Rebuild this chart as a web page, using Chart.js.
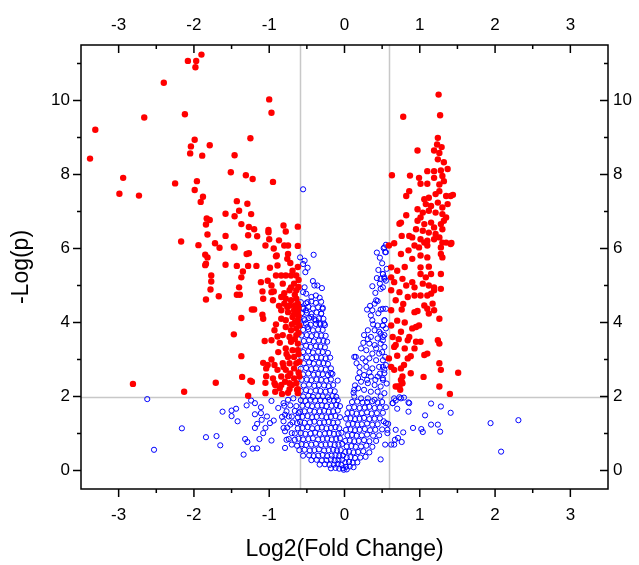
<!DOCTYPE html>
<html>
<head>
<meta charset="utf-8">
<script src="https://cdn.jsdelivr.net/npm/chart.js@4.4.1/dist/chart.umd.min.js"></script>
<style>
  html, body { margin: 0; padding: 0; background: #ffffff; }
  #wrap { width: 639px; height: 565px; }
</style>
</head>
<body>
<div id="wrap"><canvas id="volcano" width="639" height="565"></canvas></div>
<script>
// Volcano plot: log2 fold change vs -log10(p)

const xTickValues = [-3, -2, -1, 0, 1, 2, 3];
const xMinorTicks = [-2.5, -1.5, -0.5, 0.5, 1.5, 2.5];
const yTickValues = [0, 2, 4, 6, 8, 10];
const yMinorTicks = [1, 3, 5, 7, 9, 11];

const foldCut = 0.585;   // log2(1.5)
const pCut = 2;          // p = 0.01

// significantly down-regulated genes [log2FC, -log p]
const downGenes = [
  [-1.90,11.24],[-2.08,11.07],[-1.97,11.07],[-1.98,10.90],[-2.40,10.48],[-2.66,9.54],[-2.12,9.63],
  [-3.31,9.21],[-3.38,8.43],[-1.99,8.94],[-2.04,8.76],[-1.79,8.79],[-2.05,8.57],[-1.89,8.51],
  [-2.94,7.91],[-2.25,7.76],[-1.96,7.82],[-2.99,7.48],[-2.73,7.43],[-1.99,7.58],[-1.88,7.40],
  [-1.91,7.26],[-1.83,6.81],[-1.79,6.77],[-1.84,6.65],[-1.82,6.38],[-2.17,6.19],[-1.94,6.09],
  [-1.72,6.14],
  [-1.00,10.03],[-0.97,9.67],[-1.25,8.98],[-1.46,8.52],[-1.51,8.06],[-1.31,7.98],[-1.22,7.88],
  [-0.95,7.80],[-1.43,7.28],[-1.29,7.21],[-1.40,7.02],[-1.58,6.94],[-1.46,6.87],[-1.24,6.93],
  [-1.37,6.66],[-1.27,6.58],[-1.20,6.52],[-1.01,6.50],[-1.01,6.44],[-0.81,6.62],[-0.78,6.46],
  [-0.62,6.59],[-1.58,6.34],[-1.28,6.36],[-1.16,6.33],[-1.00,6.25],[-0.87,6.22],[-1.66,6.02],
  [-1.47,6.05],[-1.46,6.03],[-1.05,6.08],[-0.94,6.00],[-0.80,6.08],[-0.75,6.08],[-0.62,6.07],
  [-1.85,5.83],[-1.82,5.76],[-1.30,5.85],[-1.27,5.87],[-0.90,5.81],[-0.75,5.85],[-0.76,5.72],
  [-1.84,5.59],[-1.85,5.55],[-1.58,5.56],[-1.43,5.53],[-1.28,5.53],[-1.17,5.53],[-0.99,5.48],
  [-0.91,5.79],[-0.89,5.54],[-0.72,5.61],[-1.35,5.38],[-1.77,5.27],[-1.77,5.11],[-0.91,5.27],
  [-0.84,5.27],[-0.78,5.27],[-0.71,5.27],[-0.64,5.27],[-1.37,5.22],[-1.40,4.95],[-1.11,5.09],
  [-1.02,5.13],[-0.97,5.00],[-0.82,5.05],[-0.71,4.95],[-1.78,4.89],[-1.09,4.84],[-0.97,4.82],
  [-0.94,4.84],[-0.80,4.79],[-0.73,4.87],[-0.64,4.87],[-1.67,4.71],[-1.43,4.75],[-1.39,4.75],
  [-1.84,4.62],[-1.08,4.64],[-0.95,4.60],[-0.84,4.69],[-0.78,4.64],[-0.71,4.60],[-0.64,4.64],
  [-0.80,4.51],[-0.73,4.46],[-0.66,4.46],[-0.62,4.51],[-1.23,4.35],[-1.20,4.35],[-0.84,4.33],
  [-0.75,4.28],[-0.67,4.33],[-0.62,4.28],[-1.09,4.21],[-1.08,4.10],[-1.37,4.12],[-0.84,4.10],
  [-0.78,4.06],[-0.69,4.15],[-0.62,4.06],[-0.91,3.95],[-0.93,3.79],[-0.78,3.88],[-0.71,3.79],
  [-0.64,3.84],[-0.60,3.92],[-1.47,3.68],[-0.82,3.66],[-0.73,3.61],[-0.64,3.66],[-1.06,3.50],
  [-0.97,3.52],[-0.86,3.45],[-0.71,3.48],[-0.62,3.43],[-0.78,3.30],[-0.69,3.25],[-0.62,3.25],
  [-1.37,3.09],[-0.75,3.07],[-0.67,3.07],[-0.97,3.00],[-1.08,2.91],[-1.02,2.85],[-0.93,2.85],
  [-0.82,2.90],[-0.73,2.90],[-0.64,2.90],[-0.60,2.94],[-1.04,2.76],[-0.89,2.72],[-0.78,2.72],
  [-0.67,2.76],[-1.36,2.53],[-1.25,2.43],[-1.04,2.55],[-0.95,2.49],[-0.84,2.54],[-0.75,2.55],
  [-0.67,2.49],[-0.60,2.54],[-0.93,2.36],[-0.84,2.31],[-0.73,2.36],[-0.64,2.36],[-1.71,2.37],
  [-0.86,2.22],[-0.73,2.20],[-0.62,2.20],[-0.62,2.09],
  [-2.81,2.34],[-2.13,2.13],[-1.28,2.02],[-1.05,2.09],[-0.92,2.13],[-0.83,2.07],[-0.75,2.10],
  [-1.23,2.40],[-1.05,2.37],[-0.92,2.31],[-0.79,2.40],[-0.70,2.31],[-0.63,2.18],
  [-0.61,2.65],[-0.61,3.15],[-0.66,3.55],[-0.61,3.72],[-0.66,4.00],[-0.61,4.18],[-0.67,4.22],
  [-0.61,4.40],[-0.66,4.75],[-0.61,4.96],[-0.67,5.05],[-0.61,5.15],[-0.69,5.40],[-0.62,5.50],
  [-0.70,3.95],[-0.77,3.15],[-0.72,2.62],[-0.81,2.80],[-0.88,3.20],[-0.76,4.42],[-0.87,4.45],
  [-0.89,3.62]
];

// significantly up-regulated genes [log2FC, -log p]
const upGenes = [
  [1.25,10.16],[0.78,9.56],[1.27,9.60],[1.24,8.99],[1.23,8.81],[1.29,8.74],[1.19,8.65],
  [1.26,8.58],[1.24,8.41],[1.32,8.33],[1.37,8.15],[0.97,8.65],[0.63,7.98],[0.87,7.97],
  [1.10,8.09],[1.19,8.09],[1.28,8.11],[1.19,7.91],[1.30,7.96],[1.32,7.82],[1.26,7.73],
  [0.99,7.91],[1.01,7.75],[1.10,7.75],[0.86,7.55],[0.82,7.42],[1.06,7.33],[1.12,7.37],
  [1.21,7.47],[1.26,7.55],[1.35,7.42],[1.41,7.42],[1.44,7.45],[1.08,7.20],[1.15,7.15],
  [1.24,7.24],[1.30,7.11],[1.37,7.20],[0.97,7.06],[1.04,6.97],[1.12,7.02],[1.21,6.97],
  [1.30,6.93],[1.35,6.84],[0.82,6.90],[0.73,6.67],[0.75,6.70],[0.97,6.75],[1.01,6.84],
  [1.06,6.66],[1.15,6.70],[1.19,6.57],[1.28,6.66],[1.32,6.75],[0.95,6.52],[1.04,6.48],
  [1.12,6.43],[1.21,6.39],[1.30,6.52],[0.76,6.34],[0.86,6.34],[0.90,6.30],[1.01,6.25],
  [1.10,6.21],[1.19,6.25],[1.26,6.30],[1.30,6.16],[1.42,6.15],[0.66,6.14],[0.59,6.08],
  [0.93,6.08],[0.99,6.03],[1.10,6.08],[1.28,6.03],
  [1.06,6.16],[1.35,6.16],[1.41,6.12],[0.90,5.72],[1.01,5.81],[1.10,5.76],[1.28,5.85],
  [1.30,5.76],[0.62,5.49],[1.01,5.49],[1.12,5.51],[1.01,5.31],[1.08,5.22],[1.15,5.31],
  [1.28,5.31],[0.62,5.22],[0.66,5.09],[0.77,5.18],[0.82,5.00],[0.90,5.09],[0.93,4.95],
  [1.04,5.05],[1.12,5.00],[1.19,4.95],[1.28,4.91],[0.62,4.87],[0.73,4.82],[0.84,4.69],
  [0.93,4.73],[1.01,4.73],[1.10,4.73],[1.15,4.78],[1.19,4.87],[1.06,4.46],[1.10,4.37],
  [1.17,4.51],[1.19,4.33],[1.12,4.24],[1.26,4.10],[0.62,4.33],[0.76,4.35],[0.93,4.28],
  [0.97,4.31],[0.62,3.92],[0.90,3.84],[0.95,3.88],[0.99,3.92],[0.75,3.75],[0.84,3.52],
  [0.86,3.61],[0.64,3.61],[0.68,3.39],[0.66,3.34],[0.95,3.48],[1.01,3.48],[0.93,3.30],
  [1.24,3.52],[1.26,3.43],[1.06,3.12],[1.10,3.16],[0.59,3.03],[0.84,3.03],[0.88,3.09],
  [0.79,2.85],[0.75,2.76],[0.66,2.72],[0.62,2.80],[1.26,2.90],[1.28,2.72],[1.51,2.64],
  [0.88,2.63],[1.05,2.53],[0.77,2.54],[0.75,2.45],[0.73,2.27],[0.68,2.27],[0.77,2.36],
  [1.26,2.27],[1.40,2.07],[0.71,2.27],[0.74,2.18],[0.76,2.40],
  [0.70,3.10],[0.72,3.55],[0.80,3.30],[0.70,4.05],[0.80,4.00],[0.68,4.60],[0.78,4.50],
  [0.70,5.40],[0.80,5.50],[0.75,5.85],[0.85,5.95]
];

// genes below either threshold [log2FC, -log p]
const nsGenes = [
  [-2.62,1.93],[-2.16,1.14],[-2.53,0.56],[-1.84,0.90],[-1.70,0.93],[-1.65,0.68],[-1.62,1.59],
  [-1.50,1.62],[-1.44,1.67],[-1.50,1.47],[-1.42,1.33],[-1.30,1.76],[-1.24,1.89],[-1.19,1.82],
  [-1.11,1.71],[-0.97,1.88],[-1.19,1.52],[-1.11,1.55],[-1.03,1.46],[-0.94,1.35],[-1.10,1.37],
  [-1.16,1.26],[-1.19,1.15],[-1.05,1.15],[-0.99,1.28],[-1.32,0.85],[-1.29,0.77],[-1.13,0.85],
  [-1.08,1.01],[-0.97,0.81],[-1.34,0.43],[-1.22,0.59],[-1.16,0.60],[-0.88,1.69],[-0.81,1.82],
  [-0.75,1.91],[-0.68,1.95],[-0.79,1.51],[-0.70,1.46],[-0.61,1.55],[-0.81,1.33],[-0.72,1.24],
  [-0.63,1.28],[-0.79,1.06],[-0.70,1.01],[-0.77,0.83],[-0.66,0.83],[-0.79,0.61],[-0.63,0.67],
  [1.15,1.81],[1.28,1.73],[1.41,1.56],[1.07,1.49],[1.15,1.24],[1.24,1.24],[1.27,1.05],
  [0.91,1.15],[1.02,1.12],[1.04,1.04],[1.94,1.28],[2.31,1.36],[2.08,0.51],[0.85,1.84],
  [0.85,1.59],[0.75,1.95],[0.68,1.89],[0.64,1.82],[0.70,1.67],[0.78,1.03],[0.76,0.77],
  [0.71,0.88],[0.67,0.83],[0.66,0.70],[0.62,0.70],[0.57,1.01],[0.55,1.28],[0.52,1.33],
  [0.54,0.70],[0.48,0.30],[0.57,1.10],[0.68,1.10],[0.66,1.95],[0.73,1.98],[0.79,1.97],
  [0.86,1.82],[0.64,1.82],
  [0.53,6.03],[0.55,5.90],[0.51,5.31],[0.53,5.18],[0.55,5.13],[0.51,4.95],[0.51,4.37],
  [0.55,4.37],[0.53,4.06],[0.51,3.92],[0.55,3.84],[0.53,3.66],[0.51,3.52],[0.54,3.07],
  [0.51,2.80],[0.53,2.63],[0.51,2.45],
  [-0.55,7.60],[-0.41,5.83],[-0.59,5.76],[-0.53,5.67],[-0.55,5.58],[-0.49,5.48],[-0.52,5.36],
  [-0.42,5.12],[-0.40,5.00],[-0.36,5.00],[-0.30,4.93],[-0.53,4.95],[-0.55,4.82],[-0.51,4.78],
  [-0.44,4.69],[-0.38,4.73],[-0.33,4.67],[-0.49,4.55],[-0.55,4.37],[-0.51,4.33],[-0.29,4.37],
  [-0.31,4.24],[-0.44,4.15],[-0.38,4.06],[-0.33,3.97],[-0.27,3.97],[-0.53,4.06],[-0.49,3.88],
  [0.43,5.89],[0.52,6.01],[0.54,5.90],[0.45,5.42],[0.51,5.31],[0.48,5.18],[0.53,5.22],
  [0.37,4.98],[0.48,4.91],[0.42,4.60],[0.40,4.51],[0.44,4.58],[0.30,4.35],[0.37,4.33],
  [0.35,4.19],[0.48,4.35],[0.53,4.06],[0.51,3.92],[0.37,4.06],
  [0.31,3.79],[0.40,3.79],[0.46,3.75],[0.26,3.66],[0.35,3.61],[0.44,3.57],[0.51,3.61],
  [0.33,3.43],[0.40,3.39],[0.48,3.43],[0.53,3.34],[0.22,3.30],[0.29,3.25],[0.37,3.16],
  [0.46,3.16],[0.15,3.07],[0.24,3.03],[0.33,3.03],[0.42,2.98],[0.51,2.98],[0.20,2.80],
  [0.29,2.80],[0.37,2.76],[0.46,2.80],[0.53,2.72],[0.26,2.58],[0.35,2.54],[0.44,2.54],
  [0.51,2.49],[0.22,2.40],[0.31,2.36],[0.40,2.31],[0.48,2.27],[0.18,2.22],[0.26,2.18],
  [0.35,2.13],[0.44,2.13],[0.53,2.09],[0.13,2.00],[0.22,1.95],[0.31,1.95],[0.40,1.91],
  [0.48,2.00],
  [0.18,2.50],[0.20,2.65],[0.14,2.30],[0.12,2.10],[0.16,2.90],[0.28,2.95],[0.30,2.45],
  [0.33,2.65],[0.41,2.45],[0.47,2.62],[0.56,2.35],[0.55,2.85],[0.42,3.30],[0.50,3.20],
  [0.25,3.45],[0.31,3.55],[0.44,3.92],[0.38,3.95],[0.48,3.70],[0.34,4.45],[0.45,4.25],
  [0.41,4.80],[0.47,5.05],[0.43,5.20],[0.50,5.60],[0.56,5.45],[0.47,5.75],[0.55,6.10],
  [0.13,3.07],[0.13,2.18],
  [-0.58,4.55],[-0.51,4.52],[-0.44,4.57],[-0.38,4.53],[-0.31,4.56],
  [-0.55,4.40],[-0.48,4.42],[-0.42,4.38],[-0.35,4.41],[-0.29,4.40],
  [-0.57,4.25],[-0.50,4.26],[-0.44,4.23],[-0.37,4.27],[-0.31,4.24],
  [-0.54,4.10],[-0.47,4.12],[-0.40,4.09],[-0.34,4.11],[-0.28,4.10],
  [-0.58,3.95],[-0.51,3.97],[-0.45,3.94],[-0.38,3.96],[-0.32,3.95],[-0.26,3.93],
  [-0.55,3.80],[-0.48,3.82],[-0.42,3.79],[-0.35,3.81],[-0.29,3.80],
  [-0.57,3.65],[-0.50,3.66],[-0.44,3.63],[-0.37,3.66],[-0.31,3.65],[-0.25,3.64],
  [-0.54,3.50],[-0.47,3.52],[-0.41,3.49],[-0.34,3.51],[-0.28,3.50],[-0.23,3.48],
  [-0.58,3.35],[-0.51,3.37],[-0.45,3.34],[-0.38,3.36],[-0.32,3.35],[-0.26,3.33],
  [-0.55,3.20],[-0.48,3.22],[-0.42,3.19],[-0.35,3.21],[-0.29,3.20],[-0.22,3.18],
  [-0.57,3.05],[-0.50,3.06],[-0.43,3.04],[-0.37,3.06],[-0.31,3.05],[-0.25,3.03],[-0.19,3.05],
  [-0.54,2.90],[-0.47,2.92],[-0.41,2.89],[-0.34,2.91],[-0.28,2.90],[-0.22,2.88],
  [-0.58,2.75],[-0.51,2.77],[-0.44,2.74],[-0.38,2.76],[-0.31,2.75],[-0.25,2.73],[-0.18,2.76],
  [-0.55,2.60],[-0.48,2.62],[-0.41,2.59],[-0.35,2.61],[-0.29,2.60],[-0.22,2.58],[-0.16,2.61],
  [-0.57,2.45],[-0.50,2.46],[-0.44,2.44],[-0.37,2.46],[-0.31,2.45],[-0.24,2.43],[-0.18,2.46],
  [-0.54,2.30],[-0.47,2.32],[-0.40,2.29],[-0.34,2.31],[-0.27,2.30],[-0.21,2.28],[-0.15,2.31],
  [-0.58,2.15],[-0.51,2.17],[-0.45,2.14],[-0.38,2.16],[-0.32,2.15],[-0.25,2.13],[-0.19,2.16],[-0.13,2.14],
  [-0.55,2.00],[-0.48,2.02],[-0.42,1.99],[-0.35,2.01],[-0.29,2.00],[-0.22,1.98],[-0.16,2.01],[-0.11,1.99],
  [-0.09,2.43],[-0.18,2.63],
  [-0.58,1.90],[-0.52,1.88],[-0.45,1.91],[-0.39,1.89],[-0.32,1.90],[-0.26,1.88],[-0.20,1.91],[-0.14,1.89],[-0.09,1.90],
  [-0.80,1.75],[-0.72,1.76],[-0.64,1.74],[-0.56,1.75],[-0.49,1.77],[-0.43,1.74],[-0.36,1.75],[-0.30,1.76],[-0.24,1.74],[-0.17,1.75],[-0.11,1.77],[-0.06,1.74],
  [-0.77,1.60],[-0.66,1.61],[-0.59,1.59],[-0.53,1.60],[-0.46,1.62],[-0.40,1.59],[-0.33,1.60],[-0.27,1.61],[-0.21,1.59],[-0.15,1.60],[-0.09,1.62],
  [-0.83,1.45],[-0.74,1.46],[-0.62,1.44],[-0.56,1.45],[-0.49,1.47],[-0.43,1.44],[-0.37,1.45],[-0.30,1.46],[-0.24,1.44],[-0.18,1.45],[-0.12,1.47],[-0.06,1.44],
  [-0.69,1.30],[-0.59,1.31],[-0.53,1.29],[-0.46,1.30],[-0.40,1.32],[-0.33,1.29],[-0.27,1.30],[-0.21,1.31],[-0.15,1.29],[-0.09,1.30],
  [-0.81,1.15],[-0.76,1.16],[-0.62,1.14],[-0.56,1.15],[-0.49,1.17],[-0.43,1.14],[-0.36,1.15],[-0.30,1.16],[-0.24,1.14],[-0.18,1.15],[-0.12,1.17],[-0.07,1.14],
  [-0.66,1.00],[-0.58,1.01],[-0.52,0.99],[-0.45,1.00],[-0.39,1.02],[-0.33,0.99],[-0.26,1.00],[-0.20,1.01],[-0.14,0.99],[-0.08,1.00],[-0.04,1.02],
  [-0.74,0.85],[-0.61,0.86],[-0.55,0.84],[-0.48,0.85],[-0.42,0.87],[-0.35,0.84],[-0.29,0.85],[-0.23,0.86],[-0.17,0.84],[-0.11,0.85],[-0.06,0.87],
  [-0.70,0.70],[-0.57,0.71],[-0.51,0.69],[-0.44,0.70],[-0.38,0.72],[-0.31,0.69],[-0.25,0.70],[-0.19,0.71],[-0.13,0.69],[-0.08,0.70],[-0.03,0.72],
  [-0.60,0.55],[-0.53,0.56],[-0.46,0.54],[-0.40,0.55],[-0.34,0.57],[-0.27,0.54],[-0.21,0.55],[-0.15,0.56],[-0.10,0.54],[-0.05,0.55],
  [-0.55,0.40],[-0.47,0.41],[-0.41,0.39],[-0.35,0.40],[-0.29,0.42],[-0.23,0.39],[-0.17,0.40],[-0.12,0.41],[-0.07,0.39],[-0.02,0.40],
  [-0.44,0.28],[-0.37,0.29],[-0.30,0.27],[-0.24,0.28],[-0.18,0.30],[-0.13,0.27],[-0.08,0.28],[-0.03,0.29],
  [-0.33,0.16],[-0.26,0.17],[-0.20,0.15],[-0.14,0.16],[-0.09,0.18],[-0.04,0.15],
  [-0.18,0.06],[-0.12,0.07],[-0.07,0.05],[-0.02,0.06],
  [0.10,1.85],[0.17,1.86],[0.24,1.84],[0.30,1.85],[0.37,1.87],[0.44,1.84],[0.50,1.85],
  [0.06,1.70],[0.13,1.71],[0.20,1.69],[0.27,1.70],[0.33,1.72],[0.40,1.69],[0.47,1.70],[0.55,1.71],
  [0.04,1.55],[0.10,1.56],[0.16,1.54],[0.23,1.55],[0.30,1.57],[0.36,1.54],[0.43,1.55],[0.51,1.56],
  [0.02,1.40],[0.08,1.41],[0.14,1.39],[0.20,1.40],[0.26,1.42],[0.33,1.39],[0.40,1.40],[0.47,1.41],
  [0.05,1.25],[0.11,1.26],[0.17,1.24],[0.23,1.25],[0.30,1.27],[0.37,1.24],[0.44,1.25],[0.58,1.26],
  [0.02,1.10],[0.08,1.11],[0.14,1.09],[0.20,1.10],[0.27,1.12],[0.34,1.09],[0.41,1.10],[0.50,1.11],
  [0.04,0.95],[0.10,0.96],[0.16,0.94],[0.23,0.95],[0.30,0.97],[0.38,0.94],[0.46,0.95],
  [0.01,0.80],[0.07,0.81],[0.13,0.79],[0.19,0.80],[0.26,0.82],[0.33,0.79],[0.42,0.80],
  [0.03,0.65],[0.09,0.66],[0.15,0.64],[0.22,0.65],[0.29,0.67],[0.37,0.64],
  [0.01,0.50],[0.06,0.51],[0.12,0.49],[0.18,0.50],[0.25,0.52],[0.33,0.49],
  [0.03,0.35],[0.08,0.36],[0.14,0.34],[0.21,0.35],[0.28,0.37],
  [0.01,0.22],[0.06,0.23],[0.11,0.21],[0.17,0.22],
  [0.02,0.10],[0.07,0.11],[0.12,0.09],
  [-0.01,0.02],[0.03,0.03]
];

const toPoints = arr => arr.map(([x, y]) => ({ x, y }));

const tickFont = { family: "'Liberation Sans', Arial, sans-serif", size: 17 };
const titleFont = { family: "'Liberation Sans', Arial, sans-serif", size: 23 };

// frame, mirrored tick marks and threshold guide lines
const framePlugin = {
  id: 'frame',
  beforeDatasetsDraw(chart) {
    const { ctx, chartArea: a } = chart;
    const xs = chart.scales.x, ys = chart.scales.y;
    ctx.save();
    ctx.strokeStyle = '#c8c8c8';
    ctx.lineWidth = 1.5;
    ctx.beginPath();
    for (const v of [-foldCut, foldCut]) {
      const px = Math.round(xs.getPixelForValue(v)) + 0.5;
      ctx.moveTo(px, a.top);
      ctx.lineTo(px, a.bottom);
    }
    const py = Math.round(ys.getPixelForValue(pCut)) + 0.5;
    ctx.moveTo(a.left, py);
    ctx.lineTo(a.right, py);
    ctx.stroke();
    ctx.restore();
  },
  afterDatasetsDraw(chart) {
    const { ctx, chartArea: a } = chart;
    const xs = chart.scales.x, ys = chart.scales.y;
    const major = 8, minor = 4;
    ctx.save();
    ctx.strokeStyle = '#000000';
    ctx.lineWidth = 1.5;
    ctx.strokeRect(a.left, a.top, a.right - a.left, a.bottom - a.top);
    ctx.beginPath();
    const xMarks = xTickValues.map(v => [v, major]).concat(xMinorTicks.map(v => [v, minor]));
    for (const [v, len] of xMarks) {
      const px = xs.getPixelForValue(v);
      ctx.moveTo(px, a.bottom); ctx.lineTo(px, a.bottom + len);   // bottom: outward
      ctx.moveTo(px, a.top); ctx.lineTo(px, a.top + len);         // top: inward
    }
    const yMarks = yTickValues.map(v => [v, major]).concat(yMinorTicks.map(v => [v, minor]));
    for (const [v, len] of yMarks) {
      const py = ys.getPixelForValue(v);
      ctx.moveTo(a.left, py); ctx.lineTo(a.left - len, py);       // left: outward
      ctx.moveTo(a.right, py); ctx.lineTo(a.right - len, py);     // right: inward
    }
    ctx.stroke();
    ctx.restore();
  }
};

const fixedTicks = values => scale => { scale.ticks = values.map(v => ({ value: v })); };

new Chart(document.getElementById('volcano'), {
  type: 'scatter',
  data: {
    datasets: [
      {
        label: 'Down',
        data: toPoints(downGenes),
        pointRadius: 3.2,
        pointBackgroundColor: '#ff0000',
        pointBorderColor: '#ff0000',
        pointBorderWidth: 0
      },
      {
        label: 'Up',
        data: toPoints(upGenes),
        pointRadius: 3.2,
        pointBackgroundColor: '#ff0000',
        pointBorderColor: '#ff0000',
        pointBorderWidth: 0
      },
      {
        label: 'NS',
        data: toPoints(nsGenes),
        pointRadius: 2.6,
        pointBackgroundColor: 'rgba(255,255,255,0)',
        pointBorderColor: '#0000ff',
        pointBorderWidth: 1
      }
    ]
  },
  options: {
    responsive: false,
    devicePixelRatio: 1,
    animation: false,
    layout: { padding: 0 },
    plugins: { legend: { display: false }, tooltip: { enabled: false } },
    scales: {
      x: {
        type: 'linear', position: 'bottom', min: -3.5, max: 3.5,
        afterBuildTicks: fixedTicks(xTickValues),
        afterFit: s => { s.height = 76; },
        grid: { display: false, drawTicks: false }, border: { display: false },
        ticks: { font: tickFont, color: '#000', padding: 16, maxRotation: 0 },
        title: { display: true, text: 'Log2(Fold Change)', font: titleFont, color: '#000', padding: { top: 0, bottom: 2 } }
      },
      x2: {
        type: 'linear', position: 'top', min: -3.5, max: 3.5,
        afterBuildTicks: fixedTicks(xTickValues),
        afterFit: s => { s.height = 45; },
        grid: { display: false, drawTicks: false }, border: { display: false },
        ticks: { font: tickFont, color: '#000', padding: 9, maxRotation: 0 }
      },
      y: {
        type: 'linear', position: 'left', min: -0.5, max: 11.5,
        afterBuildTicks: fixedTicks(yTickValues),
        afterFit: s => { s.width = 81; },
        grid: { display: false, drawTicks: false }, border: { display: false },
        ticks: { font: tickFont, color: '#000', padding: 11 },
        title: { display: true, text: '-Log(p)', font: titleFont, color: '#000', padding: { top: 8, bottom: 0 } }
      },
      y2: {
        type: 'linear', position: 'right', min: -0.5, max: 11.5,
        afterBuildTicks: fixedTicks(yTickValues),
        afterFit: s => { s.width = 31; },
        grid: { display: false, drawTicks: false }, border: { display: false },
        ticks: { font: tickFont, color: '#000', padding: 5 }
      }
    }
  },
  plugins: [framePlugin]
});
</script>
</body>
</html>
